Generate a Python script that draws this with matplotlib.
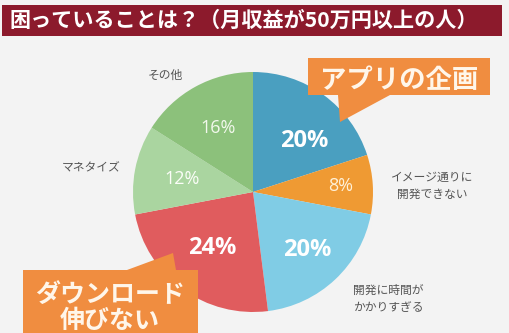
import numpy as np
import matplotlib
matplotlib.use("Agg")
import matplotlib.pyplot as plt
from matplotlib.patches import Polygon, Rectangle

plt.rcParams['font.family'] = ['Noto Sans CJK JP', 'DejaVu Sans']

# ---- data ----
title = "困っていることは？（月収益が50万円以上の人）"
categories = ["アプリの企画", "イメージ通りに\n開発できない", "開発に時間が\nかかりすぎる",
              "ダウンロード\n伸びない", "マネタイズ", "その他"]
values = [20, 8, 20, 24, 12, 16]
pct_labels = ["20%", "8%", "20%", "24%", "12%", "16%"]
colors = ["#4A9FC0", "#EF9A33", "#80CCE5", "#E05C5E", "#AAD5A0", "#8CC17B"]

W, H = 509, 333
fig = plt.figure(figsize=(W / 100, H / 100), dpi=100)
fig.patch.set_facecolor("#F3F3F3")
ax = fig.add_axes([0, 0, 1, 1])
ax.set_facecolor("#F3F3F3")

def py(y):  # pixel-from-top to data y
    return H - y

cx, cy, R = 253, py(192), 120
wedges, _ = ax.pie(values, colors=colors, startangle=90, counterclock=False,
                   center=(cx, cy), radius=R, frame=True,
                   wedgeprops=dict(linewidth=0))
ax.set_xlim(0, W)
ax.set_ylim(0, H)
ax.set_aspect('equal')
ax.axis('off')

# percentage labels inside wedges
label_style = [
    dict(frac=0.60, dth=-9, size=17, weight='bold', color='white'),
    dict(frac=0.73, dth=0, size=13, weight='normal', color='#FFF1D8'),
    dict(frac=0.66, dth=0, size=17, weight='bold', color='white'),
    dict(frac=0.58, dth=0, size=17, weight='bold', color='white'),
    dict(frac=0.60, dth=0, size=13, weight='normal', color='#FBFDF8'),
    dict(frac=0.61, dth=0, size=13, weight='normal', color='#F2F8EC'),
]
for w, lab, st in zip(wedges, pct_labels, label_style):
    th = np.deg2rad((w.theta1 + w.theta2) / 2 + st['dth'])
    x = cx + R * st['frac'] * np.cos(th)
    y = cy + R * st['frac'] * np.sin(th)
    ax.text(x, y, lab, ha='center', va='center', fontsize=st['size'],
            fontweight=st['weight'], color=st['color'],
            family=['Open Sans', 'DejaVu Sans'])

# outside labels
lab_col = "#555555"
ax.text(165, py(75), categories[5], ha='center', va='center', fontsize=8.5, color=lab_col)
ax.text(91, py(168), categories[4], ha='center', va='center', fontsize=8.5, color=lab_col)
ax.text(432, py(186), categories[1], ha='center', va='center', fontsize=8.5,
        color=lab_col, linespacing=1.35)
ax.text(353, py(299), categories[2], ha='left', va='center', fontsize=8.5,
        color=lab_col, linespacing=1.35)

# title bar
ax.add_patch(Rectangle((2, py(36)), 500, 31, facecolor="#8C1A2C", edgecolor='none', zorder=5))
ax.text(10, py(20), title, ha='left', va='center', fontsize=15.2, fontweight='bold',
        color='white', zorder=6)

# callouts
orange = "#F08D40"
c1 = [(308, 58), (490, 58), (490, 95), (390, 95), (340, 122), (338, 95), (308, 95)]
ax.add_patch(Polygon([(x, py(y)) for x, y in c1], closed=True, facecolor=orange,
                     edgecolor='none', zorder=7))
ax.text(399, py(80), categories[0], ha='center', va='center', fontsize=19,
        fontweight='bold', color='#FFF6EA', zorder=8)

c2 = [(23, 270), (127, 270), (173, 253), (176, 270), (198, 270), (198, 340), (23, 340)]
ax.add_patch(Polygon([(x, py(y)) for x, y in c2], closed=True, facecolor=orange,
                     edgecolor='none', zorder=7))
ax.text(110, py(308), categories[3], ha='center', va='center', fontsize=18,
        fontweight='bold', color='#FFF6EA', linespacing=1.15, zorder=8)

fig.savefig("out.png", dpi=100, facecolor=fig.get_facecolor())
